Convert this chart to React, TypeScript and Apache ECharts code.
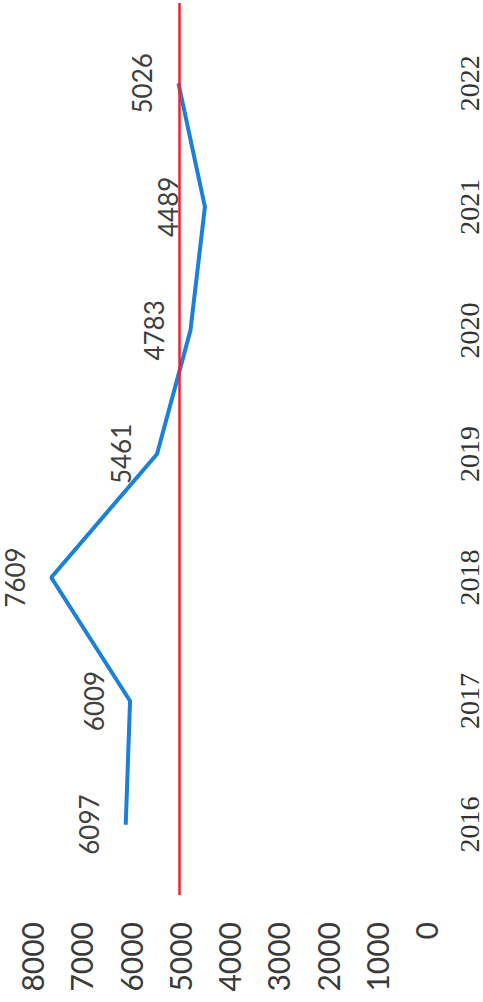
import React, { useEffect, useRef } from "react";
import * as echarts from "echarts";

const years = [2016, 2017, 2018, 2019, 2020, 2021, 2022];
const values = [6097, 6009, 7609, 5461, 4783, 4489, 5026];
const targetValue = 5000;
const valueMin = 0;
const valueMax = 8000;
const valueStep = 1000;
const yearMin = 2015.43;
const yearMax = 2022.65;

export default function App() {
  const ref = useRef<HTMLDivElement>(null);
  useEffect(() => {
    if (!ref.current) return;
    const chart = echarts.init(ref.current, null, { renderer: "svg" });
    chart.setOption({
      animation: false,
      backgroundColor: "#ffffff",
      grid: { left: 32, right: 55, top: 3, bottom: 107, containLabel: false },
      xAxis: {
        type: "value",
        inverse: true,
        min: valueMin,
        max: valueMax,
        interval: valueStep,
        position: "bottom",
        axisLine: { show: false },
        axisTick: { show: false },
        splitLine: { show: false },
        axisLabel: {
          rotate: 90,
          margin: 27,
          color: "#3a3a3a",
          fontFamily: "'Lato', sans-serif",
          fontSize: 30,
          formatter: (v: number) => String(v),
        },
      },
      yAxis: {
        type: "value",
        position: "right",
        min: yearMin,
        max: yearMax,
        axisLine: { show: false },
        axisTick: { show: false },
        splitLine: { show: false },
        axisLabel: {
          customValues: years,
          rotate: 90,
          margin: 29,
          color: "#333333",
          fontFamily: "'Liberation Serif', 'DejaVu Serif', serif",
          fontSize: 28,
          formatter: (v: number) => String(v),
        },
      },
      series: [
        {
          type: "line",
          data: years.map((y, i) => [values[i], y]),
          showSymbol: true,
          symbol: "circle",
          symbolSize: 1,
          itemStyle: { color: "#1a80d8" },
          lineStyle: { color: "#1a80d8", width: 4 },
          label: {
            show: true,
            position: "left",
            distance: 23,
            rotate: 90,
            align: "center",
            verticalAlign: "bottom",
            color: "#404040",
            fontFamily: "'Lato', sans-serif",
            fontSize: 26,
            formatter: (p: any) => String(p.value[0]),
          },
          markLine: {
            silent: true,
            symbol: "none",
            label: { show: false },
            lineStyle: { color: "#f02030", width: 2.5, type: "solid" },
            data: [{ xAxis: targetValue }],
          },
        },
      ],
    });
    return () => chart.dispose();
  }, []);
  return (
    <div
      ref={ref}
      style={{ position: "fixed", left: 0, top: 0, width: 483, height: 1002 }}
    />
  );
}
